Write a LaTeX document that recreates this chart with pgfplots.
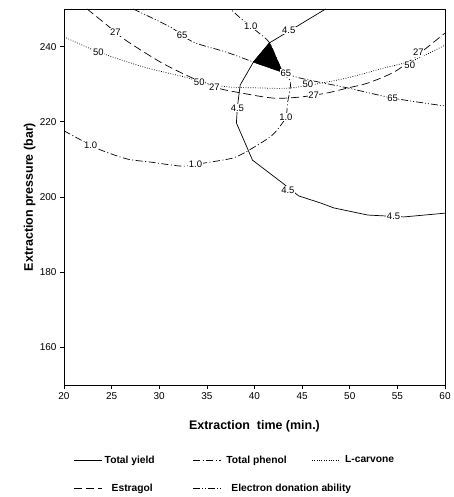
\documentclass[border=0pt]{standalone}
\usepackage{fontspec}
\setmainfont{Liberation Sans}
\usepackage{pgfplots}
\pgfplotsset{compat=1.18}
\tikzset{lbl/.style={fill=white, inner sep=0.6pt, font=\fontsize{9.5}{10}\selectfont}}
\begin{document}
\begin{tikzpicture}
\begin{axis}[
  scale only axis, width=381bp, height=376bp,
  xmin=20, xmax=60, ymin=150, ymax=250,
  xtick={20,25,...,60}, ytick={160,180,...,240},
  tick align=outside, tick pos=left,
  major tick length=4bp,
  tick style={black, line width=0.6pt},
  axis line style={line width=0.9pt},
  /pgf/number format/assume math mode=true,
  ticklabel style={font=\fontsize{10}{11}\selectfont},
  xlabel={Extraction\ \ time (min.)},
  ylabel={Extraction pressure (bar)},
  label style={font=\bfseries\fontsize{12.5}{13}\selectfont},
  xlabel style={at={(axis description cs:0.5,-0.086)}, anchor=north},
  ylabel style={at={(axis description cs:-0.066,0.5)}, anchor=south},
  legend columns=3,
  legend cell align=left,
  legend style={at={(axis description cs:0.018,-0.177)}, anchor=north west,
    draw=none, font=\bfseries\fontsize{10.3}{11}\selectfont, row sep=15bp},
  legend image code/.code={\draw[#1] (0bp,0bp) -- (28bp,0bp);},
  every axis plot/.append style={line width=0.7bp, black},
]
% optimum region
\addplot[fill=black, forget plot] coordinates {(41.58,241.0) (39.89,235.9) (42.95,233.2) (41.58,241.0)};

% total yield 4.5
\addplot[solid] coordinates {
(47.47,250) (41.58,241.0) (39.89,235.9) (38.5,229.8) (38.2,223.9) (38.1,219.7)
(39.79,209.8) (42.95,203.7) (44.63,200.3) (46.95,198.4) (48.32,197.1)
(51.89,195.2) (55.68,194.7) (60,195.7)};
\addlegendentry{\makebox[86bp][l]{Total yield}}

% total phenol 1.0
\addplot[smooth, tension=0.4, dash pattern=on 7bp off 2.5bp on 1bp off 2.5bp] coordinates {
(20,217.6) (23.58,212.8) (26.63,210.1) (29.05,209.3) (32.42,208.2) (34.63,209.0)
(37.79,210.4) (39.79,213.0) (41.89,216.5) (43.26,221.0) (43.47,225.0) (43.79,230.6)
(42.95,233.2) (41.58,241.0) (40.32,243.9) (38.74,247.1) (37.47,250)};
\addlegendentry{\makebox[86bp][l]{\hspace{3bp}Total phenol}}

% L-carvone 50
\addplot[smooth, dash pattern=on 0.8bp off 1.6bp] coordinates {
(20,242.6) (23.58,238.6) (28.32,234.6) (32.21,232.2) (36.42,229.5) (40.63,229.0)
(43.79,229.0) (47.68,230.6) (50.11,231.9) (53.58,234.3) (56.74,236.4) (60,240.4)};
\addlegendentry{\makebox[86bp][l]{\hspace{3bp}L-carvone}}

% estragol 27
\addplot[smooth, dash pattern=on 8bp off 4bp] coordinates {
(22.42,250) (24.53,245.7) (26.42,241.8) (30.11,235.9) (33.26,231.9) (36.11,229.0)
(38.53,227.7) (42.0,226.3) (44.84,226.6) (47.68,227.7) (49.79,229.0) (51.89,230.3)
(54.63,233.2) (56.74,237.0) (57.79,239.1) (60,243.6)};
\addlegendentry{\makebox[86bp][l]{\hspace{7bp}Estragol}}

% electron donation ability 65
\addplot[smooth, dash pattern=on 7bp off 2bp on 1bp off 2bp on 1bp off 2bp] coordinates {
(27.26,250) (31.16,245.2) (33.58,241.2) (36.95,238.6) (39.89,235.9) (42.95,233.2)
(44.84,231.6) (49.79,229.0) (54.53,226.3) (60,224.2)};
\addlegendentry{\makebox[86bp][l]{\hspace{8bp}Electron donation ability}}

% contour labels
\node[lbl] at (axis cs:43.6,244.3) {4.5};
\node[lbl] at (axis cs:38.2,223.6) {4.5};
\node[lbl] at (axis cs:43.5,201.9) {4.5};
\node[lbl] at (axis cs:54.6,194.9) {4.5};
\node[lbl] at (axis cs:39.6,245.4) {1.0};
\node[lbl] at (axis cs:43.3,221.2) {1.0};
\node[lbl] at (axis cs:22.8,213.7) {1.0};
\node[lbl] at (axis cs:33.8,208.8) {1.0};
\node[lbl] at (axis cs:23.6,238.6) {50};
\node[lbl] at (axis cs:34.2,230.4) {50};
\node[lbl] at (axis cs:45.6,229.9) {50};
\node[lbl] at (axis cs:56.3,235.1) {50};
\node[lbl] at (axis cs:25.4,243.9) {27};
\node[lbl] at (axis cs:35.8,229.3) {27};
\node[lbl] at (axis cs:46.2,227.1) {27};
\node[lbl] at (axis cs:57.2,238.4) {27};
\node[lbl] at (axis cs:32.4,243.1) {65};
\node[lbl] at (axis cs:43.3,232.9) {65};
\node[lbl] at (axis cs:54.5,226.3) {65};
\end{axis}
\path (current axis.south west) +(-64bp,-112bp) rectangle ([shift={(6bp,9bp)}]current axis.north east);
\end{tikzpicture}
\end{document}
